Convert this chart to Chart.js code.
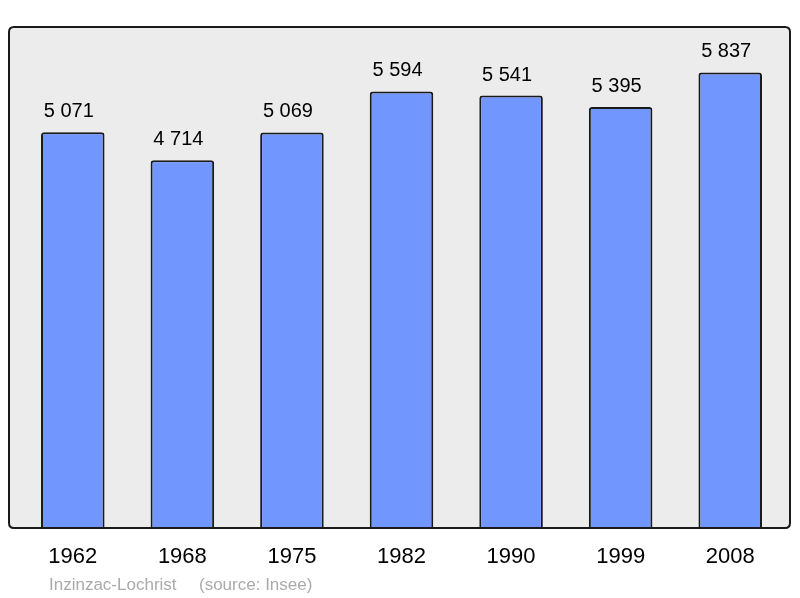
<!DOCTYPE html>
<html>
<head>
<meta charset="utf-8">
<script src="https://cdn.jsdelivr.net/npm/chart.js@4/dist/chart.umd.min.js"></script>
<style>
  html, body { margin: 0; padding: 0; background: #fff; overflow: hidden; }
  canvas { display: block; }
</style>
</head>
<body>
<canvas id="popChart" width="800" height="598"></canvas>
<script>
const years = ['1962', '1968', '1975', '1982', '1990', '1999', '2008'];
const population = [5071, 4714, 5069, 5594, 5541, 5395, 5837];
const place = 'Inzinzac-Lochrist';
const source = '(source: Insee)';

const FONT = "'Liberation Sans', Arial, sans-serif";

function fmt(n) {
  return String(n).replace(/\B(?=(\d{3})+(?!\d))/g, ' ');
}

function roundRect(ctx, x, y, w, h, r) {
  ctx.beginPath();
  ctx.moveTo(x + r, y);
  ctx.lineTo(x + w - r, y);
  ctx.quadraticCurveTo(x + w, y, x + w, y + r);
  ctx.lineTo(x + w, y + h - r);
  ctx.quadraticCurveTo(x + w, y + h, x + w - r, y + h);
  ctx.lineTo(x + r, y + h);
  ctx.quadraticCurveTo(x, y + h, x, y + h - r);
  ctx.lineTo(x, y + r);
  ctx.quadraticCurveTo(x, y, x + r, y);
  ctx.closePath();
}

// grey frame behind the bars, border drawn over them
const framePlugin = {
  id: 'frame',
  beforeDatasetsDraw(chart) {
    const ctx = chart.ctx;
    const a = chart.chartArea;
    ctx.save();
    roundRect(ctx, 9, a.top, 781, a.bottom - a.top, 5);
    ctx.fillStyle = '#ececec';
    ctx.fill();
    ctx.restore();
  },
  afterDatasetsDraw(chart) {
    const ctx = chart.ctx;
    const a = chart.chartArea;
    ctx.save();
    roundRect(ctx, 9, a.top, 781, a.bottom - a.top, 5);
    ctx.lineWidth = 2;
    ctx.strokeStyle = '#1a1a1a';
    ctx.stroke();

    // value labels
    ctx.fillStyle = '#000';
    ctx.font = '20px ' + FONT;
    ctx.textAlign = 'center';
    ctx.textBaseline = 'alphabetic';
    chart.getDatasetMeta(0).data.forEach((bar, i) => {
      ctx.fillText(fmt(population[i]), bar.x - 4, bar.y - 15);
    });

    // footer
    ctx.fillStyle = '#aaaaaa';
    ctx.font = '17px ' + FONT;
    ctx.textAlign = 'left';
    ctx.fillText(place, 49, 590);
    ctx.fillText(source, 199, 590);
    ctx.restore();
  }
};

const ctx = document.getElementById('popChart').getContext('2d');
new Chart(ctx, {
  type: 'bar',
  data: {
    labels: years,
    datasets: [{
      data: population,
      backgroundColor: '#7197ff',
      borderColor: '#1a1a1a',
      borderWidth: 2,
      borderRadius: { topLeft: 3, topRight: 3, bottomLeft: 0, bottomRight: 0 },
      borderSkipped: 'bottom',
      barPercentage: 0.58,
      categoryPercentage: 1
    }]
  },
  options: {
    responsive: false,
    animation: false,
    devicePixelRatio: 1,
    layout: { padding: { left: 18, right: 15, top: 27, bottom: 0 } },
    plugins: {
      legend: { display: false },
      tooltip: { enabled: false }
    },
    scales: {
      x: {
        grid: { display: false, drawTicks: false },
        border: { display: false },
        ticks: {
          color: '#000',
          font: { family: FONT, size: 22 },
          padding: 16,
          autoSkip: false,
          maxRotation: 0
        },
        afterFit(scale) { scale.height = 70; }
      },
      y: {
        display: false,
        min: 0,
        max: 6420
      }
    }
  },
  plugins: [framePlugin]
});
</script>
</body>
</html>
